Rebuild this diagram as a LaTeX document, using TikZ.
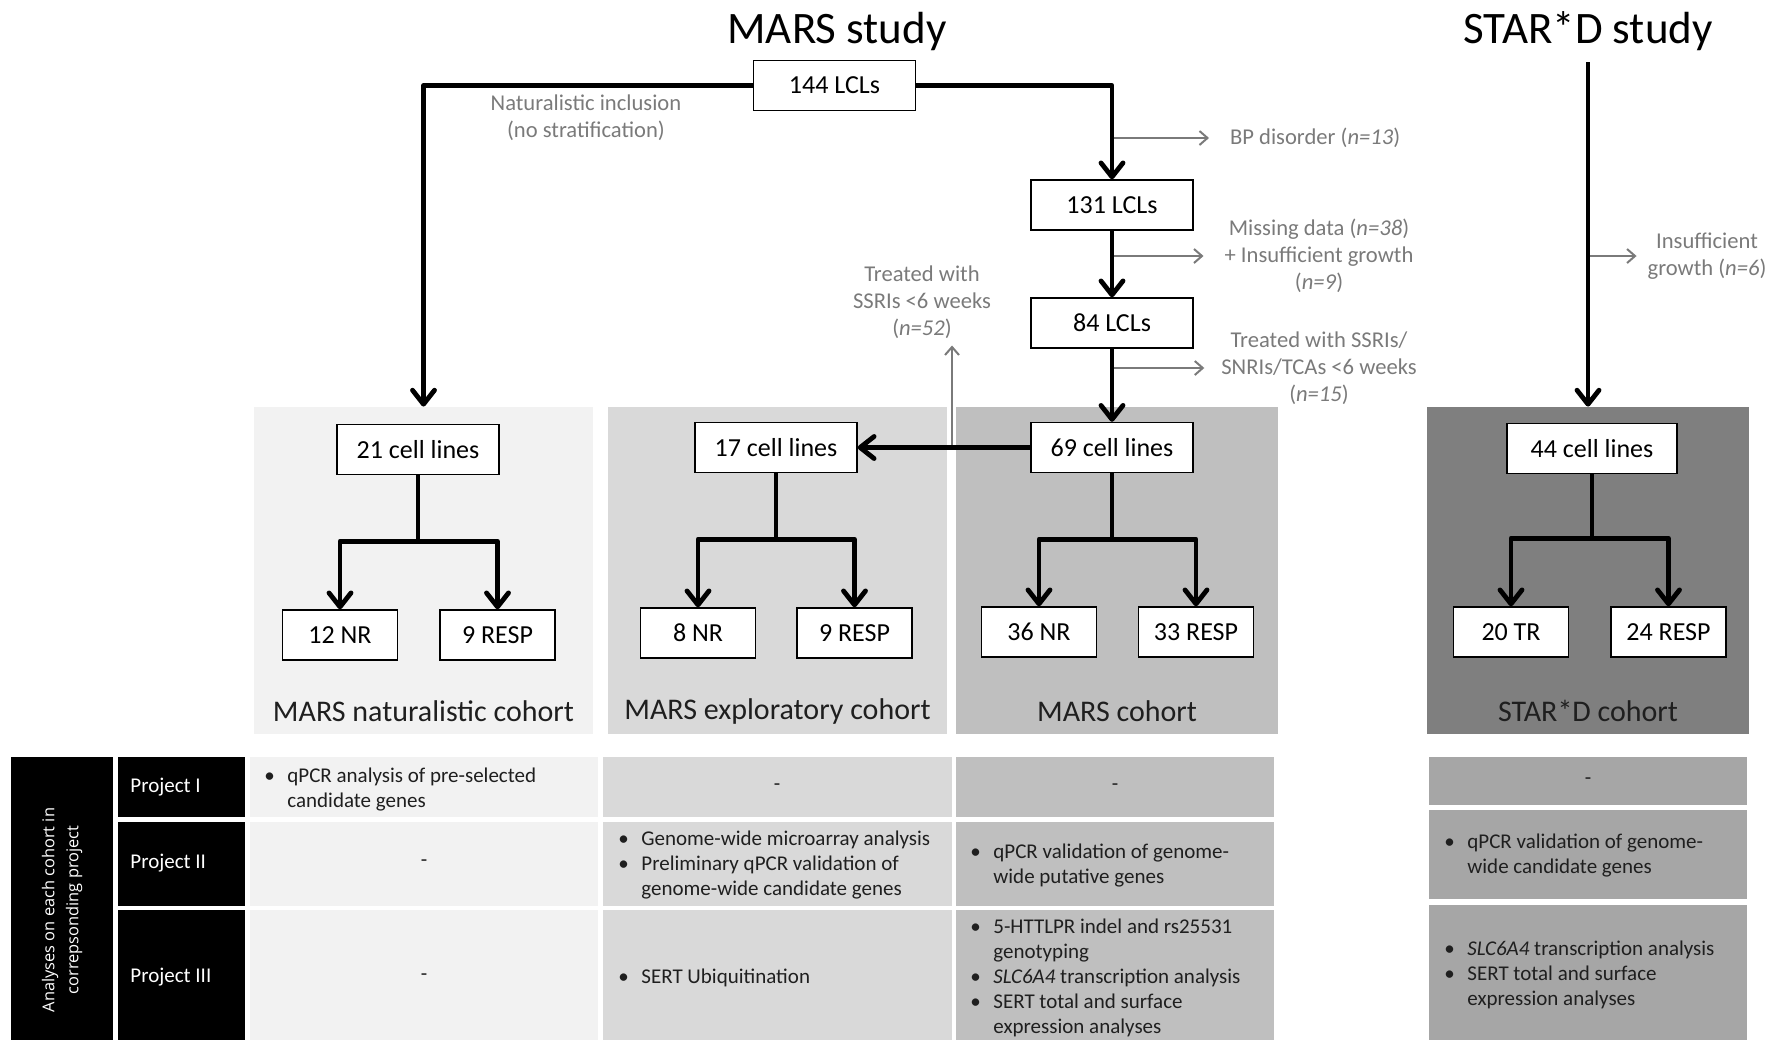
\documentclass[tikz,border=0pt]{standalone}
\usepackage{fontspec}
\setmainfont{Carlito}
\newfontfamily\sidefont{Open Sans}
\usetikzlibrary{arrows.meta}

\definecolor{natgray}{HTML}{F2F2F2}
\definecolor{expgray}{HTML}{D9D9D9}
\definecolor{marsgray}{HTML}{BFBFBF}
\definecolor{stargray}{HTML}{7F7F7F}
\definecolor{starcell}{HTML}{A6A6A6}
\definecolor{notegray}{HTML}{7A7A7A}

\newcommand{\bul}{\makebox[11.5pt][l]{\textbullet}}
\newcommand{\ind}{\hspace*{11.5pt}}

\tikzset{
  box/.style={draw=black, fill=white, line width=0.7pt, inner sep=0pt,
    minimum width=81pt, minimum height=25pt, font=\fontsize{13}{15}\selectfont},
  smallbox/.style={box, minimum width=57.5pt},
  panel/.style={inner sep=0pt, minimum height=163.5pt},
  flow/.style={line width=2.4pt, line join=round,
    -{Straight Barb[length=7pt,width=11pt,round]}},
  excl/.style={draw=notegray, line width=1pt, -{Straight Barb[length=4pt,width=7pt]}},
  note/.style={text=notegray, align=center, font=\fontsize{11.3}{13.5}\selectfont},
  title/.style={font=\fontsize{22.5}{27}\selectfont},
  cohort/.style={font=\fontsize{15}{18}\selectfont, text=black!88},
  cell/.style={align=left, anchor=west, inner sep=0pt, text=black!88,
    font=\fontsize{10.5}{12.5}\selectfont},
  nilcell/.style={inner sep=0pt, text=black!88, font=\fontsize{10.5}{12.5}\selectfont},
  proj/.style={text=white, anchor=west, inner sep=0pt, font=\fontsize{10.5}{12.5}\selectfont},
}

\begin{document}
\begin{tikzpicture}[x=0.5pt, y=-0.5pt]
\useasboundingbox (0,0) rectangle (1778,1040);

\node[title] (marst) at (837,31) {MARS study};
\node[title] (start) at (1588,31) {STAR*D study};

\node[panel, fill=natgray, minimum width=169.5pt] (pnat) at (423.5,570.5) {};
\node[panel, fill=expgray, minimum width=169.5pt] (pexp) at (777.5,570.5) {};
\node[panel, fill=marsgray, minimum width=161pt] (pmars) at (1117,570.5) {};
\node[panel, fill=stargray, minimum width=161pt] (pstar) at (1588,570.5) {};

\node[cohort] (lnat) at (423.5,711) {MARS naturalistic cohort};
\node[cohort] (lexp) at (777.5,711) {MARS exploratory cohort};
\node[cohort] (lmars) at (1117,711) {MARS cohort};
\node[cohort] (lstar) at (1588,711) {STAR*D cohort};

\node[box] (lcl144) at (834.5,85.5) {144 LCLs};
\node[box] (lcl131) at (1112,205) {131 LCLs};
\node[box] (lcl84) at (1112,323) {84 LCLs};
\node[box] (c69) at (1112,447.5) {69 cell lines};
\node[box] (c21) at (418,449.5) {21 cell lines};
\node[box] (c17) at (776,447.5) {17 cell lines};
\node[box, minimum width=85pt] (c44) at (1592,448.5) {44 cell lines};

\node[smallbox] (nr21) at (340,635) {12 NR};
\node[smallbox] (rp21) at (497.5,635) {9 RESP};
\node[smallbox] (nr17) at (698,633) {8 NR};
\node[smallbox] (rp17) at (854.5,633) {9 RESP};
\node[smallbox] (nr69) at (1039,632) {36 NR};
\node[smallbox] (rp69) at (1196,632) {33 RESP};
\node[smallbox] (tr44) at (1511,632) {20 TR};
\node[smallbox] (rp44) at (1668.5,632) {24 RESP};

\node[note] (natinc) at (586,118) {Naturalistic inclusion\\(no stratification)};
\node[note, anchor=west] (bp) at (1223,138) {BP disorder (\textit{n=13})};
\node[note] (miss) at (1319,256) {Missing data (\textit{n=38})\\+ Insufficient growth\\(\textit{n=9})};
\node[note] (trt15) at (1319,368) {Treated with SSRIs/\\SNRIs/TCAs <6 weeks\\(\textit{n=15})};
\node[note] (trt52) at (922,302) {Treated with\\SSRIs <6 weeks\\(\textit{n=52})};
\node[note] (insuf) at (1707,256) {Insufficient\\growth (\textit{n=6})};

\draw[excl] (bp.west -| lcl131.north) -- ([xshift=-7pt]bp.west);
\draw[excl] (miss.west -| lcl131.south) -- ([xshift=-7pt]miss.west);
\draw[excl] (trt15.west -| lcl84.south) -- ([xshift=-5pt]trt15.west);
\draw[excl] (insuf.west -| pstar.north) -- ([xshift=-2pt]insuf.west);
\coordinate (up52) at (952,447.5);
\draw[excl] (up52) -- (up52 |- trt52.south);

\draw[flow] (lcl144.west) -| (pnat.north);
\draw[flow] (lcl144.east) -| (lcl131.north);
\draw[flow] (lcl131.south) -- (lcl84.north);
\draw[flow] (lcl84.south) -- (c69.north);
\draw[flow] (c69.west) -- (c17.east);
\coordinate (startop) at (1588,62);
\draw[flow] (startop) -- (pstar.north);

\draw[flow] (c21.south) -- ++(0,66) -| (nr21.north);
\draw[flow] (c21.south) -- ++(0,66) -| (rp21.north);
\draw[flow] (c17.south) -- ++(0,66) -| (nr17.north);
\draw[flow] (c17.south) -- ++(0,66) -| (rp17.north);
\draw[flow] (c69.south) -- ++(0,66) -| (nr69.north);
\draw[flow] (c69.south) -- ++(0,66) -| (rp69.north);
\draw[flow] (c44.south) -- ++(0,64) -| (tr44.north);
\draw[flow] (c44.south) -- ++(0,64) -| (rp44.north);

\fill[black] (11,757) rectangle (113,1040);
\node[text=white, rotate=90, align=center, inner sep=0pt,
  font=\sidefont\fontsize{8.2}{12}\selectfont] (side) at (62,910)
  {Analyses on each cohort in\\correpsonding project};

\fill[black] (118,757) rectangle (245,817);
\fill[black] (118,822) rectangle (245,906);
\fill[black] (118,910) rectangle (245,1040);
\node[proj] (pI) at (130,787) {Project I};
\node[proj] (pII) at (130,863) {Project II};
\node[proj] (pIII) at (130,977) {Project III};

\fill[natgray] (250,757) rectangle (598,817);
\fill[natgray] (250,822) rectangle (598,906);
\fill[natgray] (250,910) rectangle (598,1040);
\fill[expgray] (603,757) rectangle (952,817);
\fill[expgray] (603,822) rectangle (952,906);
\fill[expgray] (603,910) rectangle (952,1040);
\fill[marsgray] (956,757) rectangle (1274,817);
\fill[marsgray] (956,822) rectangle (1274,906);
\fill[marsgray] (956,910) rectangle (1274,1040);
\fill[starcell] (1429,757) rectangle (1747,805);
\fill[starcell] (1429,810) rectangle (1747,899);
\fill[starcell] (1429,905) rectangle (1747,1040);

\node[cell] (nat1) at (264,789) {\bul qPCR analysis of pre-selected\\\ind candidate genes};
\node[nilcell] (nat2) at (424,863) {-};
\node[nilcell] (nat3) at (424,977) {-};

\node[nilcell] (exp1) at (777,787) {-};
\node[cell] (exp2) at (618,865) {\bul Genome-wide microarray analysis\\\bul Preliminary qPCR validation of\\\ind genome-wide candidate genes};
\node[cell] (exp3) at (618,978) {\bul SERT Ubiquitination};

\node[nilcell] (mars1) at (1115,787) {-};
\node[cell] (mars2) at (970,865) {\bul qPCR validation of genome-\\\ind wide putative genes};
\node[cell] (mars3) at (970,978) {\bul 5-HTTLPR indel and rs25531\\\ind genotyping\\\bul \textit{SLC6A4} transcription analysis\\\bul SERT total and surface\\\ind expression analyses};

\node[nilcell] (star1) at (1588,781) {-};
\node[cell] (star2) at (1444,855) {\bul qPCR validation of genome-\\\ind wide candidate genes};
\node[cell] (star3) at (1444,975) {\bul \textit{SLC6A4} transcription analysis\\\bul SERT total and surface\\\ind expression analyses};
\end{tikzpicture}
\end{document}
